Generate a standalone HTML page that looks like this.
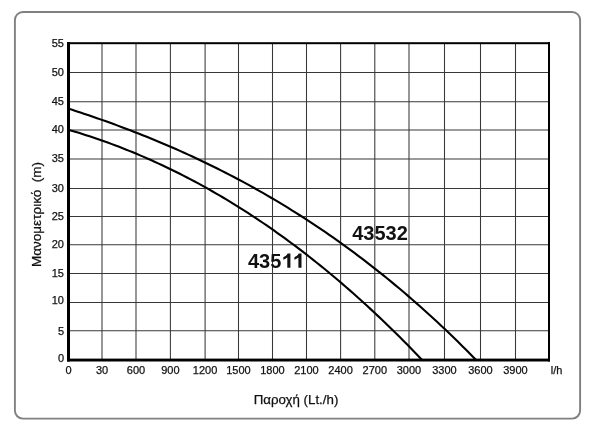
<!DOCTYPE html>
<html><head><meta charset="utf-8"><style>
html,body{margin:0;padding:0;background:#fff;width:600px;height:432px;overflow:hidden}
svg{display:block;will-change:transform}
text{font-family:"Liberation Sans",sans-serif;fill:#111;stroke:#111;stroke-width:0.25px}
</style></head><body>
<svg width="600" height="432" viewBox="0 0 600 432">
<defs><clipPath id="c"><rect x="68" y="43" width="481" height="317"/></clipPath></defs>
<rect x="14.9" y="12" width="565.2" height="406.6" rx="8" ry="8" fill="none" stroke="#808080" stroke-width="1.9"/>
<g stroke="#383838" stroke-width="1.05" fill="none">
<line x1="102.00" y1="43" x2="102.00" y2="359" />
<line x1="136.00" y1="43" x2="136.00" y2="359" />
<line x1="170.40" y1="43" x2="170.40" y2="359" />
<line x1="205.10" y1="43" x2="205.10" y2="359" />
<line x1="238.50" y1="43" x2="238.50" y2="359" />
<line x1="272.50" y1="43" x2="272.50" y2="359" />
<line x1="306.50" y1="43" x2="306.50" y2="359" />
<line x1="340.60" y1="43" x2="340.60" y2="359" />
<line x1="374.80" y1="43" x2="374.80" y2="359" />
<line x1="409.00" y1="43" x2="409.00" y2="359" />
<line x1="444.50" y1="43" x2="444.50" y2="359" />
<line x1="480.50" y1="43" x2="480.50" y2="359" />
<line x1="515.50" y1="43" x2="515.50" y2="359" />
<line x1="68" y1="72.50" x2="549" y2="72.50" />
<line x1="68" y1="101.70" x2="549" y2="101.70" />
<line x1="68" y1="130.00" x2="549" y2="130.00" />
<line x1="68" y1="158.90" x2="549" y2="158.90" />
<line x1="68" y1="188.50" x2="549" y2="188.50" />
<line x1="68" y1="216.50" x2="549" y2="216.50" />
<line x1="68" y1="244.70" x2="549" y2="244.70" />
<line x1="68" y1="273.50" x2="549" y2="273.50" />
<line x1="68" y1="302.50" x2="549" y2="302.50" />
<line x1="68" y1="330.80" x2="549" y2="330.80" />
</g>
<g fill="none" stroke="#000" stroke-width="2.1" clip-path="url(#c)">
<path d="M68.00 108.49 L72.15 109.83 L76.29 111.18 L80.44 112.55 L84.59 113.93 L88.73 115.33 L92.88 116.75 L97.03 118.18 L101.17 119.63 L105.32 121.10 L109.46 122.59 L113.61 124.10 L117.76 125.62 L121.90 127.16 L126.05 128.73 L130.20 130.31 L134.34 131.91 L138.49 133.53 L142.64 135.17 L146.78 136.84 L150.93 138.52 L155.08 140.22 L159.22 141.95 L163.37 143.70 L167.52 145.47 L171.66 147.26 L175.81 149.08 L179.95 150.91 L184.10 152.78 L188.25 154.66 L192.39 156.57 L196.54 158.50 L200.69 160.46 L204.83 162.44 L208.98 164.45 L213.13 166.48 L217.27 168.54 L221.42 170.62 L225.57 172.73 L229.71 174.87 L233.86 177.03 L238.01 179.22 L242.15 181.44 L246.30 183.68 L250.44 185.95 L254.59 188.26 L258.74 190.59 L262.88 192.94 L267.03 195.33 L271.18 197.75 L275.32 200.19 L279.47 202.67 L283.62 205.18 L287.76 207.71 L291.91 210.28 L296.06 212.88 L300.20 215.51 L304.35 218.17 L308.49 220.87 L312.64 223.59 L316.79 226.35 L320.93 229.14 L325.08 231.97 L329.23 234.83 L333.37 237.72 L337.52 240.64 L341.67 243.60 L345.81 246.60 L349.96 249.63 L354.11 252.69 L358.25 255.79 L362.40 258.93 L366.55 262.10 L370.69 265.31 L374.84 268.56 L378.98 271.84 L383.13 275.16 L387.28 278.51 L391.42 281.91 L395.57 285.34 L399.72 288.81 L403.86 292.32 L408.01 295.87 L412.16 299.46 L416.30 303.09 L420.45 306.75 L424.60 310.46 L428.74 314.21 L432.89 318.00 L437.04 321.83 L441.18 325.70 L445.33 329.61 L449.47 333.56 L453.62 337.56 L457.77 341.60 L461.91 345.68 L466.06 349.81 L470.21 353.97 L474.35 358.19 L478.50 362.44"/>
<path d="M68.00 129.64 L71.61 130.69 L75.21 131.77 L78.82 132.87 L82.42 134.00 L86.03 135.15 L89.64 136.33 L93.24 137.52 L96.85 138.75 L100.45 140.00 L104.06 141.27 L107.67 142.56 L111.27 143.89 L114.88 145.23 L118.48 146.60 L122.09 148.00 L125.70 149.42 L129.30 150.86 L132.91 152.33 L136.52 153.83 L140.12 155.35 L143.73 156.90 L147.33 158.47 L150.94 160.07 L154.55 161.69 L158.15 163.34 L161.76 165.01 L165.36 166.71 L168.97 168.44 L172.58 170.19 L176.18 171.97 L179.79 173.78 L183.39 175.61 L187.00 177.47 L190.61 179.35 L194.21 181.26 L197.82 183.20 L201.42 185.17 L205.03 187.16 L208.64 189.18 L212.24 191.22 L215.85 193.30 L219.45 195.40 L223.06 197.52 L226.67 199.68 L230.27 201.86 L233.88 204.07 L237.48 206.31 L241.09 208.57 L244.70 210.87 L248.30 213.19 L251.91 215.54 L255.52 217.91 L259.12 220.32 L262.73 222.75 L266.33 225.22 L269.94 227.71 L273.55 230.23 L277.15 232.78 L280.76 235.35 L284.36 237.96 L287.97 240.59 L291.58 243.26 L295.18 245.95 L298.79 248.67 L302.39 251.42 L306.00 254.20 L309.61 257.01 L313.21 259.85 L316.82 262.72 L320.42 265.62 L324.03 268.55 L327.64 271.51 L331.24 274.50 L334.85 277.52 L338.45 280.57 L342.06 283.64 L345.67 286.75 L349.27 289.89 L352.88 293.06 L356.48 296.27 L360.09 299.50 L363.70 302.76 L367.30 306.05 L370.91 309.38 L374.52 312.73 L378.12 316.12 L381.73 319.54 L385.33 322.99 L388.94 326.47 L392.55 329.98 L396.15 333.52 L399.76 337.10 L403.36 340.70 L406.97 344.34 L410.58 348.01 L414.18 351.72 L417.79 355.45 L421.39 359.22 L425.00 363.02"/>
</g>
<g fill="#000">
<rect x="67" y="42" width="3" height="319.5"/>
<rect x="67" y="42.2" width="483" height="2"/>
<rect x="548" y="42" width="2" height="319.5"/>
<rect x="67" y="358.6" width="483" height="2.9"/>
</g>
<g font-size="11">
<text x="64" y="362.30" text-anchor="end">0</text>
<text x="64" y="334.50" text-anchor="end">5</text>
<text x="64" y="304.00" text-anchor="end">10</text>
<text x="64" y="277.20" text-anchor="end">15</text>
<text x="64" y="247.60" text-anchor="end">20</text>
<text x="64" y="219.60" text-anchor="end">25</text>
<text x="64" y="191.60" text-anchor="end">30</text>
<text x="64" y="162.00" text-anchor="end">35</text>
<text x="64" y="133.00" text-anchor="end">40</text>
<text x="64" y="105.10" text-anchor="end">45</text>
<text x="64" y="76.30" text-anchor="end">50</text>
<text x="64" y="47.20" text-anchor="end">55</text>
<text x="68.50" y="373.6" text-anchor="middle">0</text>
<text x="102.00" y="373.6" text-anchor="middle">30</text>
<text x="136.00" y="373.6" text-anchor="middle">600</text>
<text x="170.40" y="373.6" text-anchor="middle">900</text>
<text x="205.10" y="373.6" text-anchor="middle">1200</text>
<text x="238.50" y="373.6" text-anchor="middle">1500</text>
<text x="272.50" y="373.6" text-anchor="middle">1800</text>
<text x="306.50" y="373.6" text-anchor="middle">2100</text>
<text x="340.60" y="373.6" text-anchor="middle">2400</text>
<text x="374.80" y="373.6" text-anchor="middle">2700</text>
<text x="409.00" y="373.6" text-anchor="middle">3000</text>
<text x="444.50" y="373.6" text-anchor="middle">3300</text>
<text x="480.50" y="373.6" text-anchor="middle">3600</text>
<text x="515.50" y="373.6" text-anchor="middle">3900</text>
<text x="556.5" y="373.6" text-anchor="middle">l/h</text>
</g>
<text x="296" y="403.5" font-size="13.3" text-anchor="middle">Παροχή (Lt./h)</text>
<text transform="translate(41 214.5) rotate(-90)" font-size="13.5" text-anchor="middle" style="white-space:pre">Μανομετρικό  (m)</text>
<text x="380" y="240" font-size="20" font-weight="bold" style="stroke-width:0" text-anchor="middle">43532</text>
<text x="248" y="268" font-size="20" font-weight="bold" style="stroke-width:0">435</text>
<path fill="#111" d="M290.4 253.4 L290.4 267.8 L287.3 267.8 L287.3 257.6 C286.2 258.6 284.8 259.4 283.3 259.8 L283.3 257.2 C285.2 256.4 286.8 255.2 287.6 253.4 Z"/>
<path fill="#111" d="M301.5 253.4 L301.5 267.8 L298.4 267.8 L298.4 257.6 C297.3 258.6 295.9 259.4 294.4 259.8 L294.4 257.2 C296.3 256.4 297.9 255.2 298.7 253.4 Z"/>
</svg>
</body></html>
